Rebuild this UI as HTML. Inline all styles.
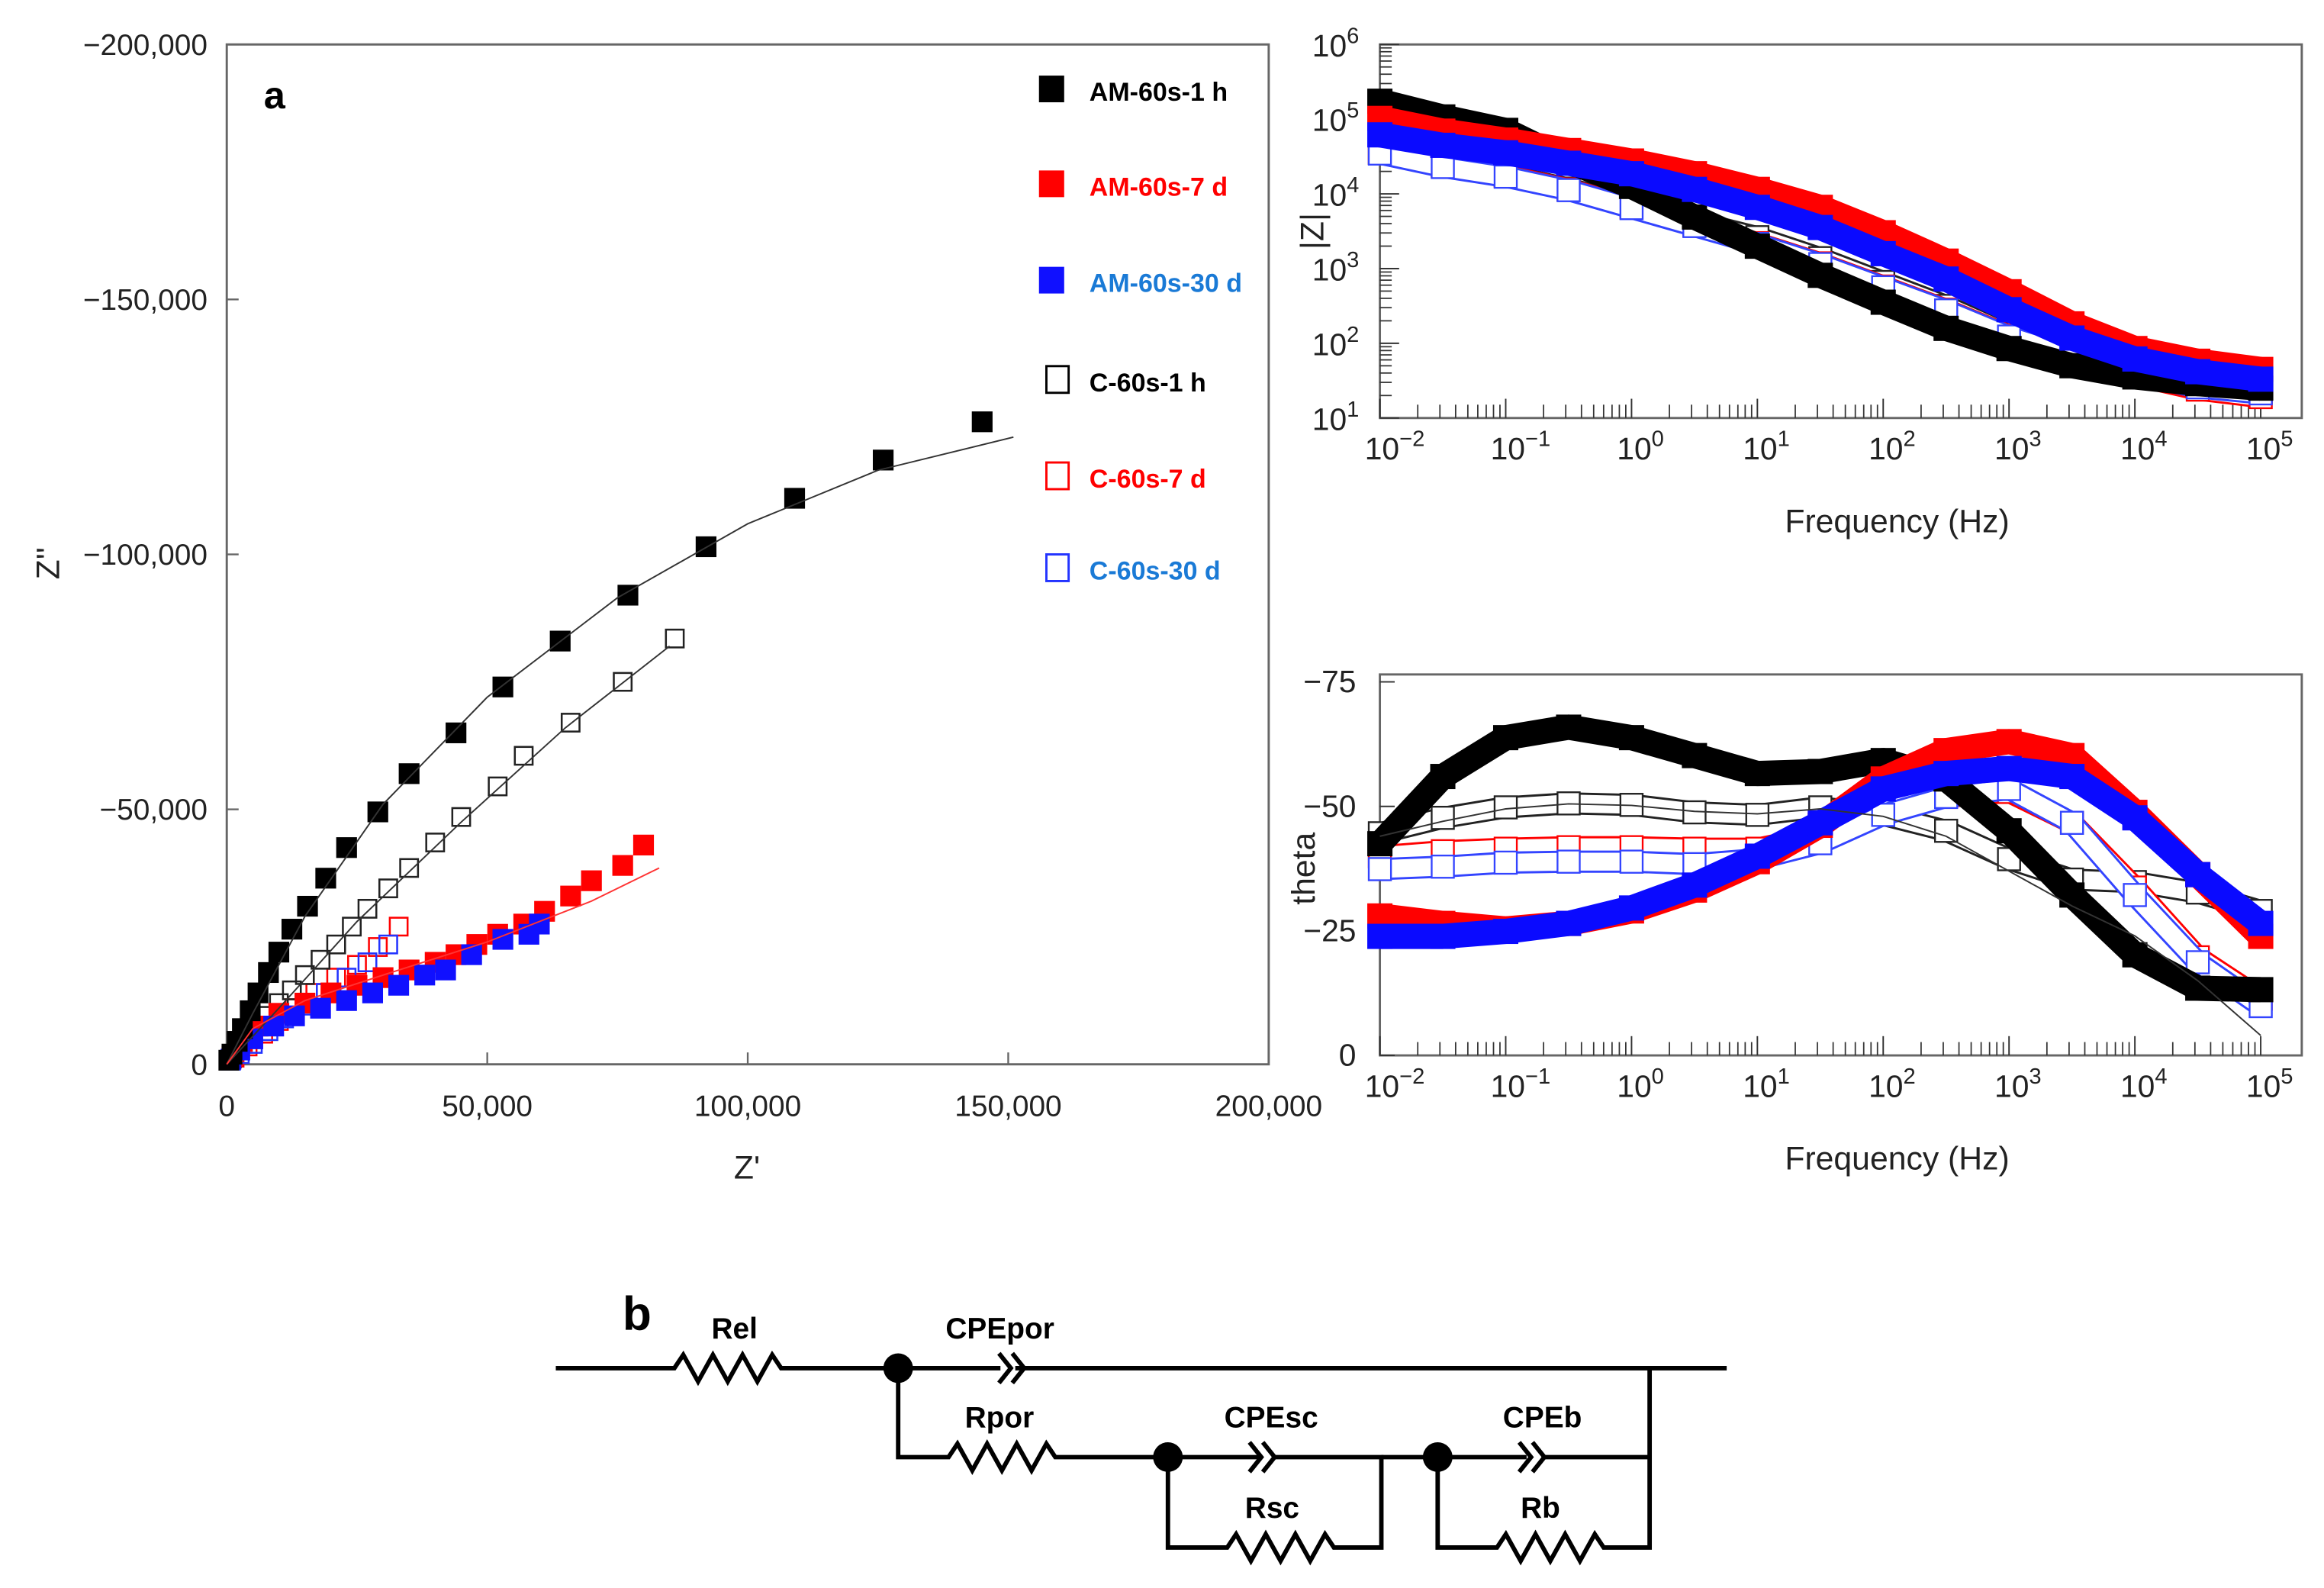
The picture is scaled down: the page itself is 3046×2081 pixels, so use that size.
<!DOCTYPE html>
<html><head><meta charset="utf-8"><style>
html,body{margin:0;padding:0;background:#fff}
svg{display:block}
text{font-family:"Liberation Sans",Arial,sans-serif}
</style></head><body>
<svg id="fig" xmlns="http://www.w3.org/2000/svg" width="3046" height="2081" viewBox="0 0 1568 1071.3" preserveAspectRatio="none">
<rect width="1568" height="1072" fill="#fff"/>
<g id="nyq"></g>
<g id="bodez"></g>
<g id="bodep"></g>
<g id="circuit" stroke="#000" stroke-width="3" fill="none">
  <path d="M375 923 H455 l6 -9 l10 18 l10 -18 l10 18 l10 -18 l10 18 l10 -18 l6 9 H606 H675 M685 923 H1165"/>
  <path d="M674 913 l8 10 l-8 10 M683 913 l8 10 l-8 10"/>
  <path d="M606 923 V983 H640 l6 -9 l10 18 l10 -18 l10 18 l10 -18 l10 18 l10 -18 l6 9 H850 M860 983 H932 V1044 H900 l-6 -9 l-10 18 l-10 -18 l-10 18 l-10 -18 l-10 18 l-10 -18 l-6 9 H788 V983"/>
  <path d="M843 973 l8 10 l-8 10 M852 973 l8 10 l-8 10"/>
  <path d="M932 983 H1030 M1040 983 H1113 V923 M1113 983 V1044 H1082 l-6 -9 l-10 18 l-10 -18 l-10 18 l-10 -18 l-10 18 l-10 -18 l-6 9 H970 V983"/>
  <path d="M1025 973 l8 10 l-8 10 M1034 973 l8 10 l-8 10"/>
  <circle cx="606" cy="923" r="10" fill="#000" stroke="none"/>
  <circle cx="788" cy="983" r="10" fill="#000" stroke="none"/>
  <circle cx="970" cy="983" r="10" fill="#000" stroke="none"/>
  <g stroke="none" fill="#000" font-weight="bold" font-size="20">
    <text x="420" y="897" font-size="32">b</text>
    <text x="480" y="903">Rel</text>
    <text x="638" y="903">CPEpor</text>
    <text x="651" y="963">Rpor</text>
    <text x="826" y="963">CPEsc</text>
    <text x="840" y="1024">Rsc</text>
    <text x="1014" y="963">CPEb</text>
    <text x="1026" y="1024">Rb</text>
  </g>
</g>
</svg>
<script>
// ===== Nyquist data (Z', -Z'') =====
const amH_x=[400,1000,2000,3000,4500,6000,8000,10000,12500,15500,19000,23000,29000,35000,44000,53000,64000,77000,92000,109000,126000,145000];
const amH_y=[800,2000,4500,7000,10500,14000,18000,22000,26500,31000,36500,42500,49500,57000,65000,74000,83000,92000,101500,111000,118500,126000];
const am7_x=[1000,3000,6000,10000,15000,20000,25000,30000,35000,40000,44000,48000,52000,57000,61000,66000,70000,76000,80000];
const am7_y=[1500,4500,7500,10000,12000,14000,15500,17000,18500,20000,21500,23500,25500,27500,30000,33000,36000,39000,43000];
const am30_x=[800,2500,5000,9000,13000,18000,23000,28000,33000,38000,42000,47000,53000,58000,60000];
const am30_y=[1000,2800,5000,7500,9500,11000,12500,14000,15500,17500,18500,21500,24500,25500,27500];
const cH_x=[1000,2500,4000,6000,8000,10000,12500,15000,18000,21000,24000,27000,31000,35000,40000,45000,52000,57000,66000,76000,86000];
const cH_y=[1200,3000,5000,7500,9500,12000,14500,17500,20500,23500,27000,30500,34500,38500,43500,48500,54500,60500,67000,75000,83500];
const c7_x=[1500,4000,7000,10000,13000,17000,21000,25000,29000,33000];
const c7_y=[1300,3500,6000,8500,11000,14000,17000,19500,23000,27000];
const c30_x=[800,2500,5000,8000,11000,15000,19000,23000,27000,31000];
const c30_y=[700,2000,4000,6500,9000,11500,14000,17000,20000,23500];
const fitH_x=[0,5000,15000,30000,50000,75000,100000,125000,151000];
const fitH_y=[0,10000,29000,51000,72000,91500,106000,116500,123000];
const fitC_x=[0,10000,25000,45000,65000,85000];
const fitC_y=[0,11000,28000,47500,66000,82000];
const fit7_x=[0,5000,15000,30000,50000,70000,83000];
const fit7_y=[0,7000,12500,17500,24000,32000,38500];
const nyqXTicks=[0,50000,100000,150000,200000];
const nyqXLabels=["0","50,000","100,000","150,000","200,000"];
const nyqYTicks=[0,50000,100000,150000,200000];
const nyqYLabels=["0","\u221250,000","\u2212100,000","\u2212150,000","\u2212200,000"];

// ===== Bode data (log10 f) =====
const logF=[-2,-1.5,-1,-0.5,0,0.5,1,1.5,2,2.5,3,3.5,4,4.5,5];
const zAmH=[5.24,5.03,4.85,4.44,4.1,3.69,3.3,2.91,2.55,2.2,1.93,1.7,1.55,1.46,1.4];
const zAm7=[5.01,4.84,4.72,4.58,4.44,4.27,4.06,3.82,3.48,3.1,2.69,2.26,1.93,1.76,1.65];
const zAm30=[4.79,4.65,4.55,4.41,4.27,4.06,3.82,3.55,3.2,2.86,2.45,2.07,1.79,1.62,1.52];
const zCH=[4.55,4.38,4.25,4.07,3.85,3.63,3.42,3.14,2.82,2.5,2.13,1.85,1.6,1.42,1.34];
const zC7=[4.55,4.37,4.24,4.06,3.82,3.58,3.34,3.07,2.76,2.45,2.1,1.82,1.57,1.38,1.28];
const zC30=[4.54,4.36,4.23,4.05,3.81,3.57,3.33,3.06,2.75,2.44,2.09,1.83,1.59,1.41,1.33];
const pAmH=[42.5,56,63.8,65.9,63.8,60.2,56.6,57,59.2,55.5,45.1,32.2,20.2,13.5,13.2];
const pAm7=[28,26.5,25.4,26.5,29,33.2,38.9,46.2,55.5,61.2,63,60.2,48.8,36.3,23.9];
const pAm30=[23.9,23.9,24.9,26.5,29.6,34.2,40,46.7,53.5,56.6,57.6,56,47.7,36.3,26.5];
const pCH=[44.6,47.7,49.8,50.6,50.3,48.8,48.3,49.8,48.3,45.1,39.4,35.3,34.8,32.7,29];
const pC7=[40,41,41.5,41.8,41.8,41.5,41.5,44.1,49.8,51.9,52.9,46.7,33.7,19.7,11.4];
const pC30=[37.4,37.9,38.7,38.9,38.9,38.4,39.4,42.6,48.3,51.9,53.5,46.7,32.2,18.7,9.9];
const pFitCH=[44,47,49.5,50.5,50.2,49,48.5,49.5,48,44,37,30,24,15,4];
const freqDecades=[-2,-1,0,1,2,3,4,5];
const zDecades=[1,2,3,4,5,6];
const phaseTicks=[0,25,50,75];
const phaseLabels=["0","\u221225","\u221250","\u221275"];

const NS="http://www.w3.org/2000/svg";
function mk(parent,tag,attrs){const e=document.createElementNS(NS,tag);for(const k in attrs)e.setAttribute(k,attrs[k]);parent.appendChild(e);return e;}
function txt(parent,x,y,s,attrs){const t=mk(parent,'text',Object.assign({x:x,y:y},attrs||{}));t.textContent=s;return t;}

// ---------- Nyquist ----------
const nyq=document.getElementById('nyq');
const NX0=153,NX1=856,NY0=718,NY1=30;
const xN=v=>NX0+v/200000*(NX1-NX0);
const yN=v=>NY0-v/200000*(NY0-NY1);
{
const fr=mk(nyq,'rect',{x:NX0,y:NY1,width:NX1-NX0,height:NY0-NY1,fill:'none',stroke:'#666','stroke-width':1.5});


nyqXTicks.forEach((v,i)=>{
  mk(nyq,'line',{x1:xN(v),x2:xN(v),y1:NY0,y2:NY0-8,stroke:'#666','stroke-width':1.2});
  const t=txt(nyq,xN(v),753,nyqXLabels[i],{'font-size':20,'text-anchor':'middle',fill:'#222'});
  
  
});
nyqYTicks.forEach((v,i)=>{
  mk(nyq,'line',{x1:NX0,x2:NX0+8,y1:yN(v),y2:yN(v),stroke:'#666','stroke-width':1.2});
  const t=txt(nyq,140,yN(v)+7,nyqYLabels[i],{'font-size':20,'text-anchor':'end',fill:'#222'});
  
  
});
const xt=txt(nyq,504,795,"Z'",{'font-size':22,'text-anchor':'middle',fill:'#222'});


const yt=txt(nyq,0,0,"Z''",{'font-size':22,'text-anchor':'middle',fill:'#222',transform:'translate(40,380) rotate(-90)'});


const pa=txt(nyq,178,73,"a",{'font-size':26,'font-weight':'bold',fill:'#000'});



function fitLine(xs,ys,col,name){
  const p=mk(nyq,'polyline',{points:xs.map((x,i)=>xN(x)+','+yN(ys[i])).join(' '),fill:'none',stroke:col,'stroke-width':1});
  
  
}
function series(xs,ys,col,filled,name,s){
  const g=mk(nyq,'g',{});
  
  
  xs.forEach((x,i)=>{
    const r=mk(g,'rect',{x:xN(x)-s/2,y:yN(ys[i])-s/2,width:s,height:s,fill:filled?col:'none',stroke:col,'stroke-width':filled?0:1.3});
    
    
  });
}
series(c7_x,c7_y,'#f00',false,'series-c-60s-7d',12);
series(c30_x,c30_y,'#2233ff',false,'series-c-60s-30d',12);
series(cH_x,cH_y,'#222',false,'series-c-60s-1h',12);
series(am7_x,am7_y,'#f00',true,'series-am-60s-7d',14);
series(am30_x,am30_y,'#1010ff',true,'series-am-60s-30d',14);
series(amH_x,amH_y,'#000',true,'series-am-60s-1h',14);
fitLine(fitH_x,fitH_y,'#333','fit-am-60s-1h');
fitLine(fitC_x,fitC_y,'#333','fit-c-60s-1h');
fitLine(fit7_x,fit7_y,'#f33','fit-am-60s-7d');

// legend
const leg=[["AM-60s-1 h","#000","#000",true],["AM-60s-7 d","#f00","#f00",true],["AM-60s-30 d","#1010ff","#1a7ad6",true],["C-60s-1 h","#000","#000",false],["C-60s-7 d","#f00","#f00",false],["C-60s-30 d","#2233ff","#1a7ad6",false]];
const legY=[60,124,189,256,321,383];
leg.forEach((l,i)=>{
  const g=mk(nyq,'g',{});
  
  
  if(l[3]) mk(g,'rect',{x:701,y:legY[i]-9,width:17,height:18,fill:l[1]});
  else mk(g,'rect',{x:706,y:legY[i]-9,width:15,height:18,fill:'none',stroke:l[1],'stroke-width':1.5});
  txt(g,735,legY[i]+8,l[0],{'font-size':17.5,'font-weight':'bold',fill:l[2]});
});
}

// ---------- Bode common ----------
const BX0=931,BX1=1553,DEC=84.9;
const xB=lf=>BX0+(lf+2)*DEC;
function bodeAxes(g,Y0,Y1){
  const fr=mk(g,'rect',{x:BX0,y:Y1,width:BX1-BX0,height:Y0-Y1,fill:'none',stroke:'#666','stroke-width':1.5});
  
  
  freqDecades.forEach(d=>{
    mk(g,'line',{x1:xB(d),x2:xB(d),y1:Y0,y2:Y0-13,stroke:'#333','stroke-width':1});
    if(d<5) for(let m=2;m<10;m++){const x=xB(d+Math.log10(m));mk(g,'line',{x1:x,x2:x,y1:Y0,y2:Y0-9,stroke:'#333','stroke-width':0.9});}
    const t=mk(g,'text',{x:xB(d)+(d<0?10:6),y:Y0+28,'font-size':21,'text-anchor':'middle',fill:'#222'});
    
    
    t.innerHTML='10<tspan dy="-9" font-size="15">'+(d<0?'\u2212'+(-d):d)+'</tspan>';
  });
  const xt=txt(g,1280,Y0+77,'Frequency (Hz)',{'font-size':22,'text-anchor':'middle',fill:'#222'});
  
  
}
function band(g,xs,ys,col,filled,name,s){
  const grp=mk(g,'g',{});
  
  
  const pts=xs.map((x,i)=>x+','+ys[i]).join(' ');
  mk(grp,'polyline',{points:pts,fill:'none',stroke:col,'stroke-width':s,'stroke-linejoin':'round'});
  if(!filled) mk(grp,'polyline',{points:pts,fill:'none',stroke:'#fff','stroke-width':s-3,'stroke-linejoin':'round'});
  xs.forEach((x,i)=>{
    const r=mk(grp,'rect',{x:x-s/2,y:ys[i]-s/2,width:s,height:s,fill:filled?col:'#fff',stroke:col,'stroke-width':filled?0:1.2});
    
    
  });
}

// ---------- |Z| ----------
{
const g=document.getElementById('bodez');
const Y0=282,Y1=30;const yZ=v=>Y0-(v-1)*50.4;
bodeAxes(g,Y0,Y1);
zDecades.forEach(d=>{
  mk(g,'line',{x1:BX0,x2:BX0+13,y1:yZ(d),y2:yZ(d),stroke:'#333','stroke-width':1});
  if(d<6) for(let m=2;m<10;m++){const y=yZ(d+Math.log10(m));mk(g,'line',{x1:BX0,x2:BX0+8,y1:y,y2:y,stroke:'#333','stroke-width':0.9});}
  const t=mk(g,'text',{x:917,y:yZ(d)+8,'font-size':21,'text-anchor':'end',fill:'#222'});
  
  
  t.innerHTML='10<tspan dy="-9" font-size="15">'+d+'</tspan>';
});
const yt=txt(g,0,0,'|Z|',{'font-size':22,'text-anchor':'middle',fill:'#222',transform:'translate(893,156) rotate(-90)'});


const X=logF.map(xB);
band(g,X,zCH.map(yZ),'#222',false,'series-c-60s-1h',15);
band(g,X,zC7.map(yZ),'#f00',false,'series-c-60s-7d',15);
band(g,X,zC30.map(yZ),'#3344ff',false,'series-c-60s-30d',15);
band(g,X,zAmH.map(yZ),'#000',true,'series-am-60s-1h',17);
band(g,X,zAm7.map(yZ),'#f00',true,'series-am-60s-7d',17);
band(g,X,zAm30.map(yZ),'#0a0aff',true,'series-am-60s-30d',17);
}

// ---------- phase ----------
{
const g=document.getElementById('bodep');
const Y0=712,Y1=455;const yP=v=>Y0-v*3.36;
bodeAxes(g,Y0,Y1);
phaseTicks.forEach((v,i)=>{
  mk(g,'line',{x1:BX0,x2:BX0+10,y1:yP(v),y2:yP(v),stroke:'#333','stroke-width':1});
  const t=txt(g,915,yP(v)+7,phaseLabels[i],{'font-size':21,'text-anchor':'end',fill:'#222'});
  
  
});
const yt=txt(g,0,0,'theta',{'font-size':22,'text-anchor':'middle',fill:'#222',transform:'translate(887,586) rotate(-90)'});


const X=logF.map(xB);
band(g,X,pCH.map(yP),'#222',false,'series-c-60s-1h',15);
band(g,X,pC7.map(yP),'#f00',false,'series-c-60s-7d',15);
band(g,X,pC30.map(yP),'#3344ff',false,'series-c-60s-30d',15);
band(g,X,pAmH.map(yP),'#000',true,'series-am-60s-1h',17);
band(g,X,pAm7.map(yP),'#f00',true,'series-am-60s-7d',17);
band(g,X,pAm30.map(yP),'#0a0aff',true,'series-am-60s-30d',17);
const fl=mk(g,'polyline',{points:X.map((x,i)=>x+','+yP(pFitCH[i])).join(' '),fill:'none',stroke:'#333','stroke-width':1});


}
</script>
</body></html>
